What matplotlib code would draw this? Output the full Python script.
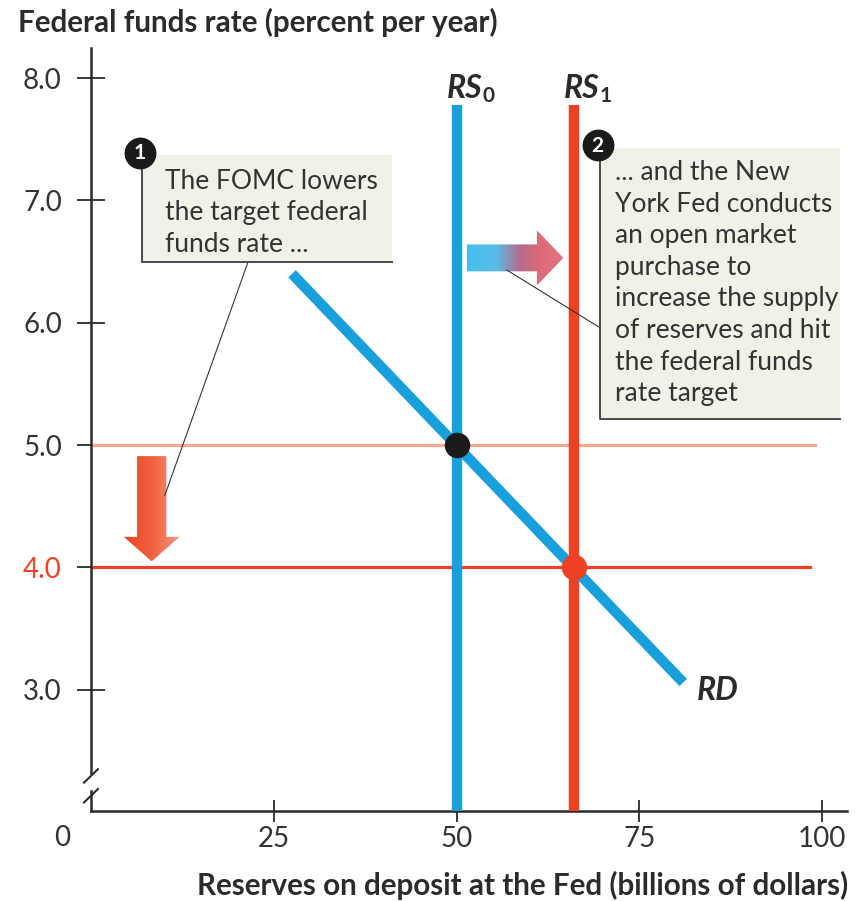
import numpy as np
import matplotlib.pyplot as plt
from matplotlib.patches import Polygon, Rectangle
from matplotlib.colors import LinearSegmentedColormap

plt.rcParams['font.family'] = ['Lato', 'DejaVu Sans']

# axis ticks
rate_ticks = [3.0, 4.0, 5.0, 6.0, 7.0, 8.0]
reserve_ticks = [25, 50, 75, 100]

# supply of reserves before and after the open market purchase
rs0_x = 50
rs1_x = 66
rs_top = 7.78

# demand for reserves
rd_x = [27.5, 81.0]
rd_y = [6.40, 3.06]

# target federal funds rate, before and after
old_target = 5.0
new_target = 4.0

BLUE = '#17a0db'
RED = '#ee4124'
SALMON = '#f8a98f'
INK = '#2b2b2b'
NOTE_FILL = '#f2f1e8'

fig = plt.figure(figsize=(8.61, 9.01), dpi=100)
ax = fig.add_axes([0.1057, 0.0999, 0.878, 0.8468])
x_lo, x_hi = 0, 103.4
y_lo, y_hi = 2.01, 8.245

for s in ['top', 'right', 'left']:
    ax.spines[s].set_visible(False)
ax.spines['bottom'].set_color(INK)
ax.spines['bottom'].set_linewidth(1.8)

ax.set_xticks(reserve_ticks)
ax.set_xticklabels([str(t) for t in reserve_ticks])
ax.set_yticks(rate_ticks)
ax.set_yticklabels(['%.1f' % t for t in rate_ticks])
ax.tick_params(axis='x', direction='inout', length=16, width=1.3, color=INK,
               labelsize=20, labelcolor='#333333', pad=3)
ax.tick_params(axis='y', direction='inout', length=20, width=1.3, color=INK,
               labelsize=20, labelcolor='#333333', pad=11)
for lab, t in zip(ax.get_yticklabels(), rate_ticks):
    if t == new_target:
        lab.set_color(RED)

# y axis drawn by hand with a break near the origin
brk_hi, brk_lo = 2.322, 2.175
ax.plot([0, 0], [brk_hi, y_hi], color=INK, lw=1.8, clip_on=False, zorder=3)
ax.plot([0, 0], [y_lo, brk_lo], color=INK, lw=1.8, clip_on=False, zorder=3)
for yc in (brk_hi - 0.025, brk_lo - 0.04):
    ax.plot([-0.95, 0.95], [yc - 0.055, yc + 0.055], color=INK, lw=1.5,
            clip_on=False, zorder=3)
ax.text(-4.0, y_lo - 0.22, '0', ha='center', va='center', fontsize=20,
        color='#333333')

# target rate lines
ax.plot([0, 99.0], [old_target, old_target], color=SALMON, lw=2.3, zorder=2)
ax.plot([0, 98.4], [new_target, new_target], color=RED, lw=2.3, zorder=2)

# supply and demand curves
ax.plot([rs0_x, rs0_x], [y_lo, rs_top], color=BLUE, lw=7.5,
        solid_capstyle='butt', zorder=4)
ax.plot([rs1_x, rs1_x], [y_lo, rs_top], color=RED, lw=7.5,
        solid_capstyle='butt', zorder=4)
ax.plot(rd_x, rd_y, color=BLUE, lw=7.5, solid_capstyle='butt', zorder=4)

ax.scatter([rs0_x], [old_target], s=300, color='#1a1a1a', zorder=6)
ax.scatter([rs1_x], [new_target], s=300, color=RED, zorder=6)

# curve labels
lab_kw = dict(fontsize=23, fontweight='bold', fontstyle='italic', color=INK)
for x, sub in ((rs0_x, '0'), (rs1_x, '1')):
    ax.text(x + 3.5, 7.84, 'RS', ha='right', va='baseline', **lab_kw)
    ax.text(x + 3.6, 7.80, sub, ha='left', va='baseline', fontsize=15,
            fontweight='bold', color=INK)
ax.text(82.9, 2.92, 'RD', ha='left', va='baseline', **lab_kw)


def gradient_arrow(verts, extent, colors, z):
    poly = Polygon(verts, closed=True, facecolor='none', edgecolor='none')
    ax.add_patch(poly)
    cmap = LinearSegmentedColormap.from_list('arrow', colors)
    grad = np.linspace(0, 1, 256).reshape(1, -1)
    im = ax.imshow(grad, extent=extent, cmap=cmap, aspect='auto',
                   interpolation='bilinear', zorder=z)
    im.set_clip_path(poly)


# rate cut arrow
cx, bw, hw = 8.3, 2.0, 3.8
top, neck, tip = 4.91, 4.25, 4.05
gradient_arrow([(cx - bw, top), (cx + bw, top), (cx + bw, neck), (cx + hw, neck),
                (cx, tip), (cx - hw, neck), (cx - bw, neck)],
               (cx - hw, cx + hw, tip, top),
               [(0, '#ec4322'), (0.5, '#f0603f'), (1, '#f6987c')], 3)

# reserves shift arrow
yc, bh, hh = 6.53, 0.11, 0.225
x0, xn, xt = 51.4, 61.0, 64.6
gradient_arrow([(x0, yc - bh), (xn, yc - bh), (xn, yc - hh), (xt, yc),
                (xn, yc + hh), (xn, yc + bh), (x0, yc + bh)],
               (x0, xt, yc - hh, yc + hh),
               [(0, '#45bff0'), (0.3, '#58bde6'), (0.55, '#b56c8a'),
                (0.75, '#dc6a7a'), (1, '#e8737f')], 3)


def note(x0, x1, y0, y1, num, text, tx, ty):
    ax.add_patch(Rectangle((x0, y0), x1 - x0, y1 - y0, facecolor=NOTE_FILL,
                           edgecolor='none', zorder=7, clip_on=False))
    ax.plot([x0, x0, x1], [y1, y0, y0], color='#4a4a4a', lw=1.4, zorder=8,
            clip_on=False)
    ax.scatter([x0 - 0.3], [y1 + 0.02], s=480, color='#1a1a1a', zorder=9,
               clip_on=False)
    ax.text(x0 - 0.3, y1 + 0.015, num, ha='center', va='center', fontsize=15,
            fontweight='bold', color='white', zorder=10)
    ax.text(tx, ty, text, ha='left', va='top', fontsize=19, color='#333333',
            linespacing=1.33, zorder=10)


note(7.0, 41.2, 6.50, 7.37, '1', 'The FOMC lowers\nthe target federal\nfunds rate ...',
     10.1, 7.26)
note(69.6, 102.5, 5.21, 7.43, '2',
     '... and the New\nYork Fed conducts\nan open market\npurchase to\n'
     'increase the supply\nof reserves and hit\nthe federal funds\nrate target',
     71.7, 7.33)

# leader lines from notes to arrows
ax.plot([21.5, 10.1], [6.50, 4.59], color='#333333', lw=0.8, zorder=5)
ax.plot([56.9, 69.6], [6.43, 5.96], color='#333333', lw=0.8, zorder=5)

ax.set_xlim(x_lo, x_hi)
ax.set_ylim(y_lo, y_hi)

fig.text(18 / 861, 1 - 22 / 901, 'Federal funds rate (percent per year)',
         ha='left', va='center', fontsize=21.3, fontweight='bold', color=INK)
fig.text(848 / 861, 1 - 885 / 901,
         'Reserves on deposit at the Fed (billions of dollars)',
         ha='right', va='center', fontsize=21.3, fontweight='bold', color=INK)

fig.savefig('out.png', dpi=100)
